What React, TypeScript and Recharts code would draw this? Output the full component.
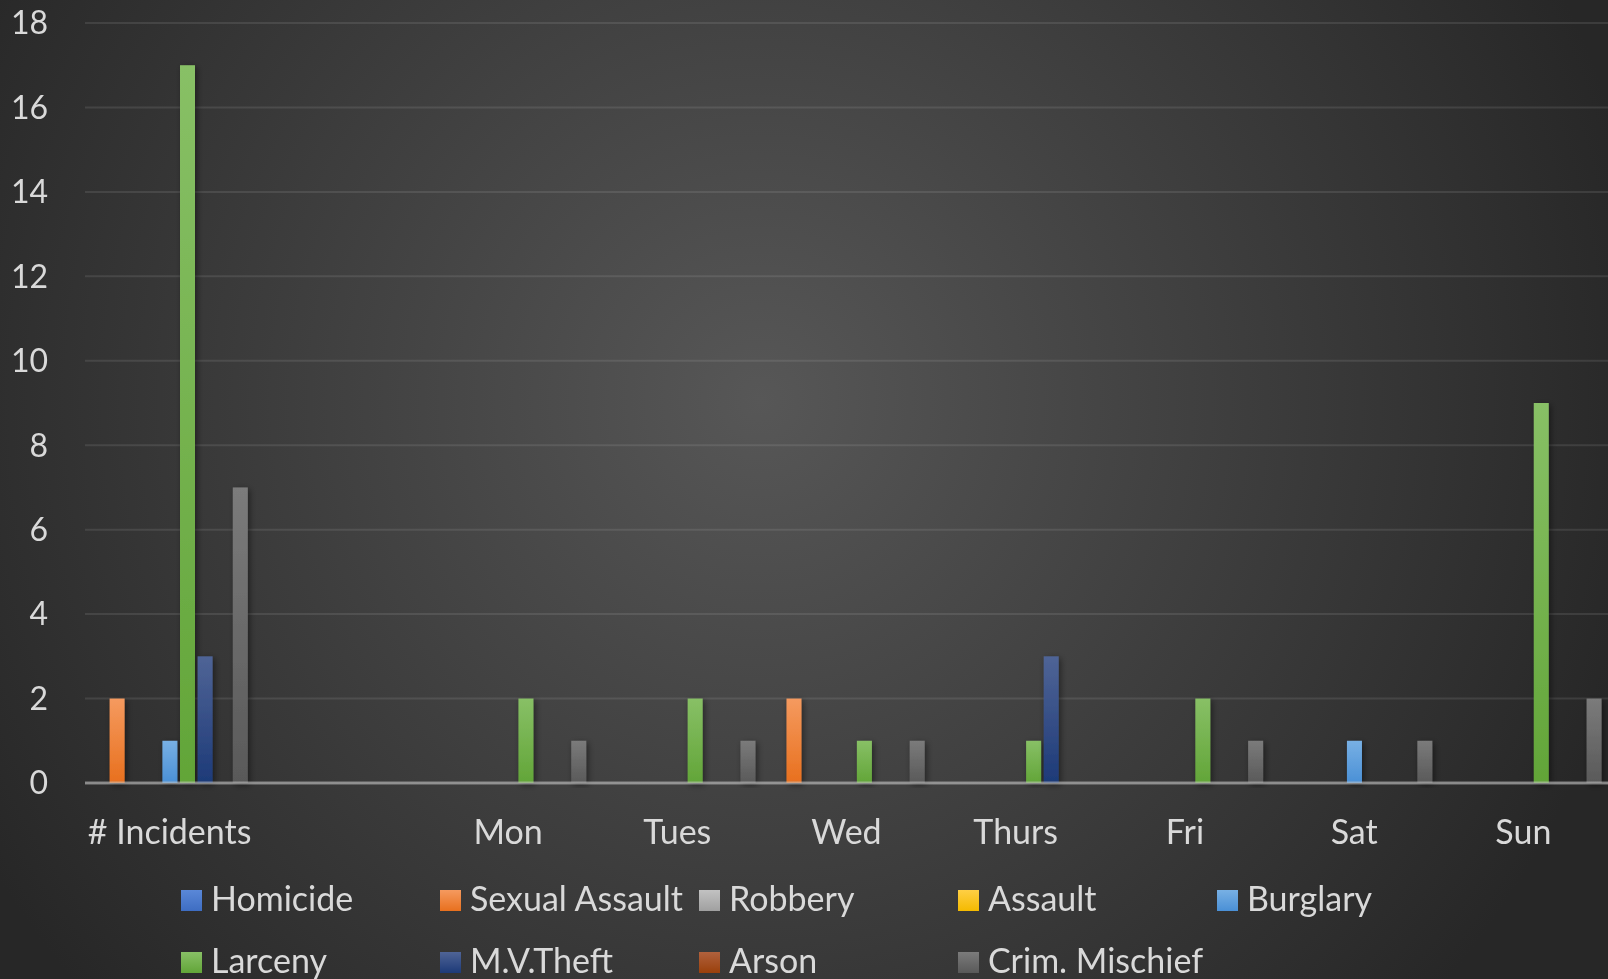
import React from "react";
import { BarChart, Bar, XAxis, YAxis, CartesianGrid } from "recharts";

// categories and series values
const days = ["# Incidents", "", "Mon", "Tues", "Wed", "Thurs", "Fri", "Sat", "Sun"];
const homicide = [0, 0, 0, 0, 0, 0, 0, 0, 0];
const sexualAssault = [2, 0, 0, 0, 2, 0, 0, 0, 0];
const robbery = [0, 0, 0, 0, 0, 0, 0, 0, 0];
const assault = [0, 0, 0, 0, 0, 0, 0, 0, 0];
const burglary = [1, 0, 0, 0, 0, 0, 0, 1, 0];
const larceny = [17, 0, 2, 2, 1, 1, 2, 0, 9];
const mvTheft = [3, 0, 0, 0, 0, 3, 0, 0, 0];
const arson = [0, 0, 0, 0, 0, 0, 0, 0, 0];
const crimMischief = [7, 0, 1, 1, 1, 0, 1, 1, 2];
const yTicks = [0, 2, 4, 6, 8, 10, 12, 14, 16, 18];

const series = [
  { key: "homicide", name: "Homicide", values: homicide, top: "#5a88d8", bottom: "#3e6dc2" },
  { key: "sexualAssault", name: "Sexual Assault", values: sexualAssault, top: "#f59a5f", bottom: "#e8701e" },
  { key: "robbery", name: "Robbery", values: robbery, top: "#c2c2c2", bottom: "#a0a0a0" },
  { key: "assault", name: "Assault", values: assault, top: "#ffcf45", bottom: "#f4ba00" },
  { key: "burglary", name: "Burglary", values: burglary, top: "#78b0e4", bottom: "#4a90d6" },
  { key: "larceny", name: "Larceny", values: larceny, top: "#88c066", bottom: "#62a538" },
  { key: "mvTheft", name: "M.V.Theft", values: mvTheft, top: "#4f6496", bottom: "#1d3a78" },
  { key: "arson", name: "Arson", values: arson, top: "#b0613d", bottom: "#9a400b" },
  { key: "crimMischief", name: "Crim. Mischief", values: crimMischief, top: "#7b7b7b", bottom: "#595959" },
];

const data = days.map((day, i) => {
  const row: any = { day };
  series.forEach((s) => (row[s.key] = s.values[i]));
  return row;
});

const FONT = "Lato, 'Open Sans', sans-serif";
const TEXT = "#d9d9d9";

const BarShape = (p: any) => {
  if (!p.height || p.height <= 0) return null;
  return (
    <rect
      x={p.x}
      y={p.y}
      width={p.width}
      height={p.height}
      fill={p.fill}
      filter="url(#barShadow)"
    />
  );
};

function LegendBlock() {
  return (
    <div
      style={{
        position: "absolute",
        left: 181,
        top: 876,
        width: 1300,
        display: "grid",
        gridTemplateColumns: "repeat(5, 259px)",
        rowGap: 18,
        fontFamily: FONT,
        fontSize: 34,
        color: TEXT,
        lineHeight: "44px",
      }}
    >
      {series.map((s) => (
        <div key={s.key} style={{ display: "flex", alignItems: "center", whiteSpace: "nowrap" }}>
          <span
            style={{
              display: "inline-block",
              width: 21,
              height: 21,
              marginRight: 9,
              marginTop: 4,
              background: `linear-gradient(${s.top}, ${s.bottom})`,
            }}
          />
          {s.name}
        </div>
      ))}
    </div>
  );
}

export default function App() {
  return (
    <div
      style={{
        position: "fixed",
        left: 0,
        top: 0,
        width: 1608,
        height: 979,
        overflow: "hidden",
        background: "radial-gradient(circle 900px at 760px 400px, #575757 0%, #272727 100%)",
      }}
    >
      <BarChart
        width={1608}
        height={979}
        data={data}
        margin={{ top: 23, right: 0, bottom: 96, left: 0 }}
        barSize={15}
        barGap={2.6}
      >
        <defs>
          {series.map((s) => (
            <linearGradient key={s.key} id={`grad-${s.key}`} x1="0" y1="0" x2="0" y2="1">
              <stop offset="0%" stopColor={s.top} />
              <stop offset="100%" stopColor={s.bottom} />
            </linearGradient>
          ))}
          <filter id="barShadow" x="-60%" y="-10%" width="220%" height="120%">
            <feDropShadow dx="2" dy="2" stdDeviation="3" floodColor="#000" floodOpacity="0.45" />
          </filter>
        </defs>
        <CartesianGrid
          vertical={false}
          stroke="#d9d9d9"
          strokeOpacity={0.12}
          strokeWidth={2}
        />
        <XAxis
          dataKey="day"
          interval={0}
          height={100}
          tickLine={false}
          tickSize={0}
          tickMargin={37}
          axisLine={{ stroke: "#c8c8c8", strokeOpacity: 0.55, strokeWidth: 3 }}
          tick={{ fill: TEXT, fontSize: 34, fontFamily: FONT }}
        />
        <YAxis
          domain={[0, 18]}
          ticks={yTicks}
          width={85}
          axisLine={false}
          tickLine={false}
          tickSize={0}
          tickMargin={37}
          tick={{ fill: TEXT, fontSize: 32, fontFamily: FONT }}
        />
        {series.map((s) => (
          <Bar
            key={s.key}
            dataKey={s.key}
            name={s.name}
            fill={`url(#grad-${s.key})`}
            shape={BarShape}
            isAnimationActive={false}
          />
        ))}
      </BarChart>
      <LegendBlock />
    </div>
  );
}
